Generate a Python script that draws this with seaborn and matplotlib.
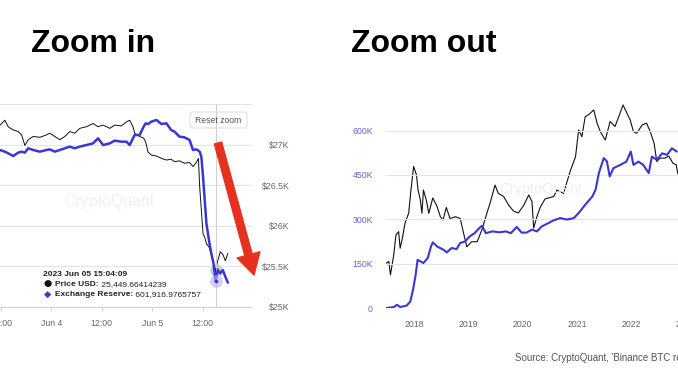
import pandas as pd
import matplotlib
matplotlib.use("Agg")
import matplotlib.pyplot as plt
import matplotlib.dates as mdates
from matplotlib import font_manager
from matplotlib.ticker import FuncFormatter, NullLocator
from matplotlib.patches import FancyBboxPatch
import seaborn as sns

# ---- zoom in: Binance BTC reserve vs price, 3-5 Jun 2023 ----
zoom_times = [
    "2023-06-03 11:46", "2023-06-03 12:57", "2023-06-03 13:44", "2023-06-03 14:56",
    "2023-06-03 16:07", "2023-06-03 16:55", "2023-06-03 17:42", "2023-06-03 18:29",
    "2023-06-03 19:41", "2023-06-03 21:16", "2023-06-03 22:51", "2023-06-03 23:38",
    "2023-06-04 00:50", "2023-06-04 02:01", "2023-06-04 03:12", "2023-06-04 04:23",
    "2023-06-04 05:35", "2023-06-04 06:46", "2023-06-04 08:21", "2023-06-04 09:56",
    "2023-06-04 11:07", "2023-06-04 12:19", "2023-06-04 13:54", "2023-06-04 15:05",
    "2023-06-04 16:40", "2023-06-04 17:52", "2023-06-04 18:39", "2023-06-04 19:26",
    "2023-06-04 19:50", "2023-06-04 21:01", "2023-06-04 21:58", "2023-06-04 22:27",
    "2023-06-04 23:00", "2023-06-04 23:48", "2023-06-05 01:00", "2023-06-05 02:12",
    "2023-06-05 03:24", "2023-06-05 04:30", "2023-06-05 05:18", "2023-06-05 06:30",
    "2023-06-05 07:42", "2023-06-05 08:54", "2023-06-05 09:42", "2023-06-05 10:30",
    "2023-06-05 11:00", "2023-06-05 11:18", "2023-06-05 11:42", "2023-06-05 12:06",
    "2023-06-05 12:30", "2023-06-05 12:54", "2023-06-05 13:30", "2023-06-05 14:03",
    "2023-06-05 14:36", "2023-06-05 15:04:09", "2023-06-05 15:36", "2023-06-05 16:12",
    "2023-06-05 16:48", "2023-06-05 17:24", "2023-06-05 18:00",
]
zoom_price = [
    27240, 27300, 27220, 27180, 27160, 27120, 26990, 27060, 27100, 27090,
    27120, 27140, 27100, 27060, 27100, 27160, 27140, 27200, 27220, 27260,
    27220, 27240, 27200, 27240, 27230, 27280, 27300, 27220, 27140, 27100,
    27080, 27030, 26910, 26870, 26860, 26830, 26810, 26820, 26790, 26800,
    26770, 26780, 26730, 26780, 26830, 26480, 26190, 25900, 25860, 25780,
    25740, 25660, 25530, 25449.66414239, 25570, 25680, 25650, 25570, 25660,
]
zoom_reserve = [
    616790, 616600, 616410, 616110, 616490, 616600, 616490, 616980, 616790, 616600,
    616790, 616860, 616600, 616790, 616980, 617170, 616980, 617170, 617350, 617540,
    618110, 617350, 617540, 617850, 617730, 617730, 617350, 618110, 618490, 618490,
    619440, 619810, 619730, 620000, 620190, 619730, 619810, 619050, 618870, 618300,
    618220, 617920, 616790, 616860, 616710, 616600, 616030, 613770, 611120, 608480,
    606590, 605080, 603950, 601916.9765757, 603190, 602810, 603190, 602440, 601760,
]
HOVER_TIME = "2023-06-05 15:04:09"
price_ticks = [25000, 25500, 26000, 26500, 27000, 27500]

# ---- zoom out: Binance BTC reserve vs price, 2017-2022 ----
reserve_dates = [
    "2017-06-25", "2017-08-15", "2017-09-06", "2017-09-27", "2017-11-10", "2017-12-05", "2017-12-23",
    "2018-01-08", "2018-01-23", "2018-02-10", "2018-03-03", "2018-04-01", "2018-04-23", "2018-05-05",
    "2018-06-03", "2018-07-16", "2018-08-07", "2018-09-09", "2018-10-12", "2018-11-06", "2018-12-09",
    "2019-01-08", "2019-02-10", "2019-03-14", "2019-04-01", "2019-04-27", "2019-06-10", "2019-07-27",
    "2019-09-09", "2019-10-12", "2019-11-21", "2019-12-24",
    "2020-01-26", "2020-03-03", "2020-04-05", "2020-05-08", "2020-06-21", "2020-07-24", "2020-09-09",
    "2020-10-23", "2020-12-09",
    "2021-01-11", "2021-02-24", "2021-04-13", "2021-05-05", "2021-05-27", "2021-06-29", "2021-07-20",
    "2021-08-08", "2021-09-02", "2021-10-19", "2021-11-28", "2021-12-28",
    "2022-01-15", "2022-02-17", "2022-03-22", "2022-04-28", "2022-05-19", "2022-06-21", "2022-07-27",
    "2022-08-29", "2022-10-01", "2022-11-03",
]
reserve_btc = [
    0, 3000, 11000, 3400, 8000, 22000, 62000,
    107000, 163000, 158000, 152000, 169000, 208000, 222000,
    208000, 197000, 188000, 203000, 199000, 220000, 225000,
    242000, 253000, 270000, 278000, 253000, 259000, 256000,
    259000, 253000, 274000, 255000,
    255000, 265000, 259000, 276000, 287000, 296000, 304000,
    299000, 304000,
    321000, 349000, 377000, 400000, 456000, 507000, 496000,
    445000, 473000, 484000, 495000, 529000,
    484000, 495000, 484000, 456000, 512000, 501000, 523000,
    518000, 540000, 529000,
]
price_dates = [
    "2017-06-25", "2017-07-13", "2017-07-24", "2017-08-15", "2017-08-30", "2017-09-17", "2017-09-27",
    "2017-10-12", "2017-10-30", "2017-11-24", "2017-12-09", "2017-12-27",
    "2018-01-15", "2018-01-26", "2018-02-10", "2018-02-21", "2018-03-03", "2018-03-22", "2018-04-08",
    "2018-05-05", "2018-06-03", "2018-06-25", "2018-07-13", "2018-08-04", "2018-08-29", "2018-10-05",
    "2018-11-06", "2018-11-28", "2018-12-20",
    "2019-01-22", "2019-02-28", "2019-04-01", "2019-05-04", "2019-05-26", "2019-06-28", "2019-07-20",
    "2019-08-25", "2019-09-27", "2019-10-30", "2019-12-02",
    "2020-01-08", "2020-02-10", "2020-03-03", "2020-03-14", "2020-04-05", "2020-04-27", "2020-05-30",
    "2020-07-27", "2020-08-18", "2020-10-01", "2020-11-18", "2020-12-21",
    "2021-01-11", "2021-02-02", "2021-02-24", "2021-03-18", "2021-04-23", "2021-05-15", "2021-06-06",
    "2021-07-09", "2021-08-11", "2021-09-13", "2021-10-08", "2021-11-06", "2021-12-02", "2021-12-24",
    "2022-01-15", "2022-02-06", "2022-03-15", "2022-04-13", "2022-05-08", "2022-06-03", "2022-06-21",
    "2022-07-13", "2022-08-15", "2022-09-09", "2022-10-08", "2022-10-30", "2022-11-10",
]
price_usd = [
    2550, 2650, 2000, 3030, 4610, 4950, 3490,
    4300, 5900, 7300, 11800, 19300,
    16200, 11800, 9600, 7250, 11800, 9600, 7250,
    10000, 8340, 6760, 6300, 8200, 6500, 6750,
    6500, 4800, 3600,
    4000, 4000, 5150, 7250, 9000, 13100, 11000,
    10300, 8630, 7600, 7300,
    8600, 10650, 9250, 5330, 6760, 8200, 9800,
    10300, 11800, 11000, 18000, 23700,
    41500, 36000, 54800, 56900, 63000, 47800, 40000,
    33600, 49400, 44600, 54800, 70000, 58900, 51200,
    40000, 38700, 46100, 47800, 40000, 31400, 21400,
    23000, 23000, 24000, 20700, 20000, 16500,
]
reserve_ticks = [0, 150000, 300000, 450000, 600000]

BLUE = "#3a36d4"
BLACK = "#111111"
GRID = "#e4e4e4"
TICK_COL = "#666666"
PURPLE = "#6561d2"
RED = "#e5321f"

sns.set_theme(style="white")
plt.rcParams["font.family"] = ["Liberation Sans", "DejaVu Sans"]

W, H = 678, 381
fig = plt.figure(figsize=(W / 100, H / 100), dpi=100)
fig.patch.set_facecolor("white")


def box(x0, y0, x1, y1):
    # pixel box (top-left origin) -> figure fraction rect
    return [x0 / W, 1 - y1 / H, (x1 - x0) / W, (y1 - y0) / H]


def clean(ax):
    for sp in ax.spines.values():
        sp.set_visible(False)
    ax.set_xlabel("")
    ax.set_ylabel("")


# ---------------- left: zoom in ----------------
t = pd.to_datetime(pd.Series(zoom_times), format="mixed")
hover_i = zoom_times.index(HOVER_TIME)
hover_t = t.iloc[hover_i]

ax_res = fig.add_axes(box(-18, 104, 252, 307))
ax_px = ax_res.twinx()
sns.lineplot(x=t, y=zoom_price, ax=ax_px, color=BLACK, linewidth=0.7)
sns.lineplot(x=t, y=zoom_reserve, ax=ax_res, color=BLUE, linewidth=1.8)
ax_res.set_zorder(ax_px.get_zorder() + 1)
ax_res.patch.set_visible(False)

ax_res.set_xlim(pd.Timestamp("2023-06-03 07:30"), pd.Timestamp("2023-06-05 23:45"))
ax_res.set_ylim(599000, 622000)
ax_px.set_ylim(25000, 27500)
ax_res.set_yticks([])
ax_px.set_yticks(price_ticks)
ax_px.yaxis.set_major_formatter(FuncFormatter(lambda v, p: "" if v >= 27500 else f"${v / 1000:g}K"))
ax_px.yaxis.grid(True, color=GRID, linewidth=0.8)
ax_px.tick_params(axis="y", length=0, pad=27.2, labelsize=6.3, labelcolor=TICK_COL)
for lab in ax_px.get_yticklabels():
    lab.set_horizontalalignment("right")

ax_res.xaxis.set_major_locator(mdates.HourLocator(byhour=[0, 12]))
ax_res.xaxis.set_major_formatter(FuncFormatter(
    lambda v, p: (lambda d: f"{d:%b} {d.day}" if d.hour == 0 else f"{d:%H:%M}")(mdates.num2date(v))))
ax_res.tick_params(axis="x", bottom=True, length=3, width=0.7, color="#cfd3da",
                   pad=5.5, labelsize=6.3, labelcolor=TICK_COL)
clean(ax_res)
clean(ax_px)
ax_res.spines["bottom"].set_visible(True)
ax_res.spines["bottom"].set_color("#cfd3da")
ax_res.spines["bottom"].set_linewidth(0.8)

ax_res.text(0.47, 0.52, "CryptoQuant", transform=ax_res.transAxes, ha="center", va="center",
            fontsize=11.4, color="#f0f0f0", zorder=0)

# crosshair + hover markers
ax_res.axvline(hover_t, color="#d0d0d0", linewidth=0.8, zorder=1)
ax_px.scatter([hover_t], [zoom_price[hover_i]], s=80, color="#a8a8a8", alpha=0.55, linewidths=0, zorder=3)
ax_px.scatter([hover_t], [zoom_price[hover_i]], s=12, color=BLACK, linewidths=0, zorder=4)
ax_res.scatter([hover_t], [zoom_reserve[hover_i]], s=85, color="#b4b2f0", alpha=0.6, linewidths=0, zorder=3)
ax_res.scatter([hover_t], [zoom_reserve[hover_i]], s=7, color=BLUE, linewidths=0, zorder=4)

# tooltip text
tip_kw = dict(transform=ax_res.transAxes, fontsize=6, color="#222222", zorder=6)
ax_res.text(0.225, 0.153, pd.Timestamp(HOVER_TIME).strftime("%Y %b %d %H:%M:%S"),
            fontweight="bold", va="baseline", **tip_kw)
ax_res.text(0.229, 0.101, "●", va="baseline", family="DejaVu Sans",
            transform=ax_res.transAxes, fontsize=6.8, color=BLACK, zorder=6)
ax_res.text(0.229, 0.052, "◆", va="baseline", family="DejaVu Sans",
            transform=ax_res.transAxes, fontsize=6.8, color=BLUE, zorder=6)
for y, name, val in [(0.103, "Price USD:", f" {zoom_price[hover_i]:,.8f}"),
                     (0.054, "Exchange Reserve:", f" {zoom_reserve[hover_i]:,.7f}")]:
    lbl = ax_res.text(0.271, y, name, fontweight="bold", va="baseline", **tip_kw)
    ax_res.annotate(val, xy=(1, 0), xycoords=lbl, va="bottom", ha="left",
                    fontsize=6, color="#222222", zorder=6)

# reset zoom button
fig.add_artist(FancyBboxPatch((1.90, (H - 128) / 100), 0.57, 0.16,
                              boxstyle="round,pad=0,rounding_size=0.025",
                              transform=fig.dpi_scale_trans, facecolor="white",
                              edgecolor="#d6d6d6", linewidth=0.7, alpha=0.85))
fig.text(218.5 / W, 1 - 120.5 / H, "Reset zoom", ha="center", va="center",
         fontsize=6.2, color="#555555")

# red arrow
fig.add_artist(plt.Annotation(
    "", xy=(254, H - 275), xytext=(218, H - 143), xycoords="figure pixels",
    textcoords="figure pixels",
    arrowprops=dict(arrowstyle="simple,head_width=0.85,head_length=0.75,tail_width=0.27",
                    color=RED, mutation_scale=20, shrinkA=0, shrinkB=0)))

# ---------------- right: zoom out ----------------
rd = pd.to_datetime(pd.Series(reserve_dates))
pdts = pd.to_datetime(pd.Series(price_dates))

ax_r = fig.add_axes(box(386, 101, 700, 308))
ax_r2 = ax_r.twinx()
sns.lineplot(x=pdts, y=price_usd, ax=ax_r2, color=BLACK, linewidth=0.8)
sns.lineplot(x=rd, y=reserve_btc, ax=ax_r, color=BLUE, linewidth=1.5)
ax_r.set_zorder(ax_r2.get_zorder() + 1)
ax_r.patch.set_visible(False)

ax_r2.set_yscale("log")
ax_r2.set_ylim(1000, 76000)
ax_r2.yaxis.set_major_locator(NullLocator())
ax_r2.yaxis.set_minor_locator(NullLocator())
ax_r.set_xlim(pd.Timestamp("2017-06-24"), pd.Timestamp("2023-04-08"))
ax_r.set_ylim(0, 700000)
ax_r.set_yticks(reserve_ticks)
ax_r.yaxis.set_major_formatter(FuncFormatter(lambda v, p: "0" if v == 0 else f"{v / 1000:.0f}K"))
ax_r.yaxis.grid(True, color=GRID, linewidth=0.8)
ax_r.tick_params(axis="y", length=0, pad=9.4, labelsize=6.3, labelcolor=PURPLE)
ax_r.xaxis.set_major_locator(mdates.YearLocator())
ax_r.xaxis.set_major_formatter(mdates.DateFormatter("%Y"))
ax_r.tick_params(axis="x", length=0, pad=8.5, labelsize=6.3, labelcolor=TICK_COL)
clean(ax_r)
clean(ax_r2)

ax_r.text(0.494, 0.575, "CryptoQuant", transform=ax_r.transAxes, ha="center", va="center",
          fontsize=10.5, color="#f0f0f0", zorder=0)

# ---------------- headings and source ----------------
names = {f.name for f in font_manager.fontManager.ttflist}
if "Liberation Sans Narrow" in names:
    head_kw = dict(family=["Liberation Sans Narrow", "Liberation Sans"], fontsize=27)
else:
    head_kw = dict(family=["Liberation Sans", "DejaVu Sans"], fontsize=23)
fig.text(93.5 / W, 1 - 52 / H, "Zoom in", ha="center", va="baseline",
         fontweight="bold", color="black", **head_kw)
fig.text(424 / W, 1 - 52 / H, "Zoom out", ha="center", va="baseline",
         fontweight="bold", color="black", **head_kw)
fig.text(515 / W, 1 - 361 / H, "Source: CryptoQuant, 'Binance BTC reserve'",
         ha="left", va="baseline", fontsize=7, color="#555555")

fig.savefig("out.png", dpi=100, facecolor="white")
